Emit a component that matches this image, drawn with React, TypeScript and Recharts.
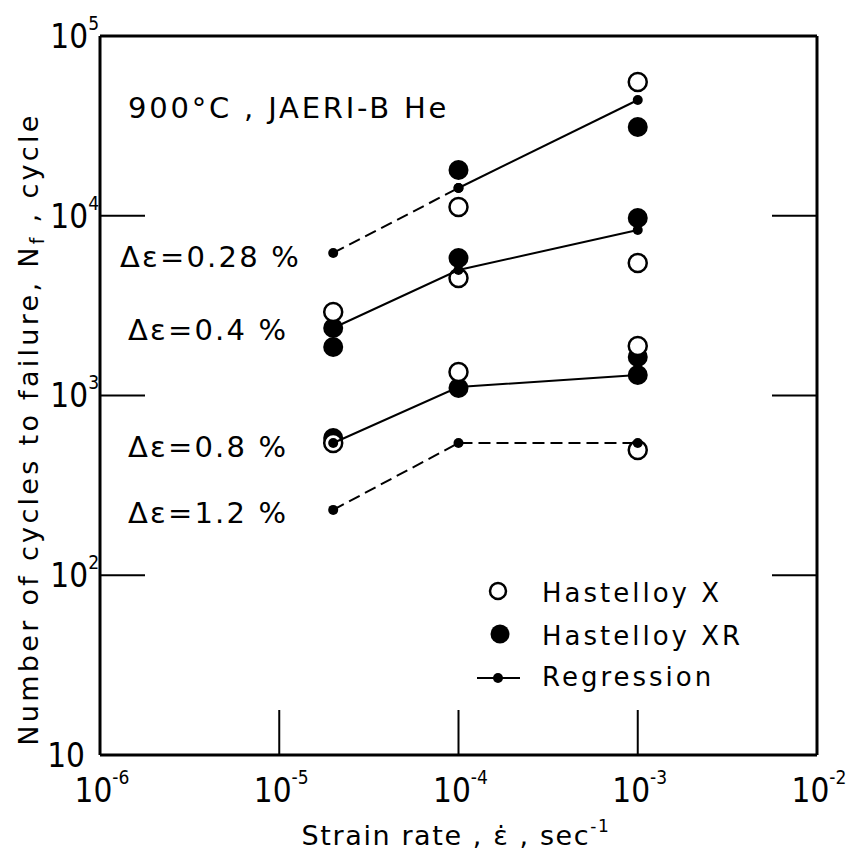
import { ScatterChart, Scatter, XAxis, YAxis, Legend } from 'recharts';

// strain rates where tests were run (sec^-1)
const STRAIN_RATES = [2e-5, 1e-4, 1e-3];

// cycles to failure, grouped by strain rate
const HASTELLOY_X = [
  [2913, 544],
  [11190, 4506, 1352],
  [55470, 5460, 1885, 498],
];
const HASTELLOY_XR = [
  [2375, 1862, 580],
  [17980, 5820, 1101],
  [31170, 9716, 1637, 1300],
];

// regression values at each strain rate, one array per strain range
const REG_028 = [6207, 14270, 44060];
const REG_04 = [2375, 4990, 8330];
const REG_08 = [544, 1115, 1300];
const REG_12 = [231, 544, 544];

const X_TICKS = [1e-6, 1e-5, 1e-4, 1e-3, 1e-2];
const Y_TICKS = [10, 1e2, 1e3, 1e4, 1e5];

const FONT = '"DejaVu Sans", sans-serif';
const TICK_FONT = '"DejaVu Sans Condensed", "DejaVu Sans", sans-serif';

const toPoints = (groups: number[][]) =>
  groups.flatMap((vals, i) => vals.map((v) => ({ x: STRAIN_RATES[i], y: v })));

const segment = (vals: number[], from: number, to: number) =>
  vals.slice(from, to + 1).map((v, k) => ({ x: STRAIN_RATES[from + k], y: v }));

const openPoints = toPoints(HASTELLOY_X);
const filledPoints = toPoints(HASTELLOY_XR);

const solidSegments = [segment(REG_028, 1, 2), segment(REG_04, 0, 2), segment(REG_08, 0, 2)];
const dashedSegments = [segment(REG_028, 0, 1), segment(REG_12, 0, 2)];

const AXIS_LINE = { stroke: '#000', strokeWidth: 3 };
const TICK_LINE = { stroke: '#000', strokeWidth: 2 };

const exponentOf = (v: number) => Math.round(Math.log10(v));

const XTick = (props: any) => {
  const { x, y, payload } = props;
  const e = exponentOf(payload.value);
  return (
    <text x={x + 2} y={y} dy="0.36em" textAnchor="middle" fontSize={33} fontFamily={TICK_FONT} fill="#000">
      <tspan>10</tspan>
      <tspan dy={-18} fontSize={19}>{e}</tspan>
    </text>
  );
};

const YTick = (props: any) => {
  const { x, y, payload } = props;
  const e = exponentOf(payload.value);
  if (e === 1) {
    return (
      <text x={x - 14} y={y} dy="0.36em" textAnchor="end" fontSize={33} fontFamily={TICK_FONT} fill="#000">
        10
      </text>
    );
  }
  return (
    <text x={x} y={y} dy="0.36em" textAnchor="end" fontSize={33} fontFamily={TICK_FONT} fill="#000">
      <tspan>10</tspan>
      <tspan dy={-18} fontSize={19}>{e}</tspan>
    </text>
  );
};

const NoLabel = () => <g />;

const openCircle = (p: any) => (
  <circle cx={p.cx} cy={p.cy} r={9} fill="#fff" stroke="#000" strokeWidth={2.5} />
);
const filledCircle = (p: any) => <circle cx={p.cx} cy={p.cy} r={10} fill="#000" />;
const regDot = (p: any) => <circle cx={p.cx} cy={p.cy} r={5} fill="#000" />;

const LegendBox = () => (
  <svg width={300} height={130} style={{ overflow: 'visible' }}>
    <g fontFamily={FONT} fontSize={26} fill="#000" letterSpacing={3}>
      <circle cx={28} cy={21} r={8} fill="#fff" stroke="#000" strokeWidth={2.5} />
      <text x={72} y={32}>Hastelloy X</text>
      <circle cx={30} cy={64} r={9.5} fill="#000" />
      <text x={72} y={75}>Hastelloy XR</text>
      <line x1={7} x2={50} y1={108} y2={108} stroke="#000" strokeWidth={2} />
      <circle cx={28} cy={108} r={5} fill="#000" />
      <text x={72} y={116}>Regression</text>
    </g>
  </svg>
);

export default function App() {
  return (
    <div style={{ position: 'absolute', left: 0, top: 0, width: 848, height: 855, background: '#fff' }}>
      <ScatterChart width={848} height={855} margin={{ top: 35, right: 30, bottom: 40, left: 40 }}>
        <XAxis
          dataKey="x"
          type="number"
          scale="log"
          domain={[1e-6, 1e-2]}
          ticks={X_TICKS}
          interval={0}
          allowDataOverflow
          height={60}
          tickSize={-45}
          tickMargin={80}
          axisLine={AXIS_LINE}
          tickLine={TICK_LINE}
          tick={(p: any) => <XTick {...p} />}
        />
        <XAxis
          xAxisId="top"
          orientation="top"
          type="number"
          scale="log"
          domain={[1e-6, 1e-2]}
          ticks={X_TICKS}
          interval={0}
          allowDataOverflow
          height={1}
          tickSize={-45}
          axisLine={AXIS_LINE}
          tickLine={TICK_LINE}
          tick={NoLabel}
        />
        <YAxis
          dataKey="y"
          type="number"
          scale="log"
          domain={[10, 1e5]}
          ticks={Y_TICKS}
          interval={0}
          allowDataOverflow
          width={60}
          tickSize={-45}
          tickMargin={46}
          axisLine={AXIS_LINE}
          tickLine={TICK_LINE}
          tick={(p: any) => <YTick {...p} />}
        />
        <YAxis
          yAxisId="right"
          orientation="right"
          type="number"
          scale="log"
          domain={[10, 1e5]}
          ticks={Y_TICKS}
          interval={0}
          allowDataOverflow
          width={1}
          tickSize={-45}
          axisLine={AXIS_LINE}
          tickLine={TICK_LINE}
          tick={NoLabel}
        />
        <Scatter data={filledPoints} shape={filledCircle} isAnimationActive={false} />
        <Scatter data={openPoints} shape={openCircle} isAnimationActive={false} />
        {solidSegments.map((seg, i) => (
          <Scatter
            key={`s${i}`}
            data={seg}
            line={{ stroke: '#000', strokeWidth: 2 }}
            lineType="joint"
            shape={regDot}
            isAnimationActive={false}
          />
        ))}
        {dashedSegments.map((seg, i) => (
          <Scatter
            key={`d${i}`}
            data={seg}
            line={{ stroke: '#000', strokeWidth: 2, strokeDasharray: '12 6' }}
            lineType="joint"
            shape={regDot}
            isAnimationActive={false}
          />
        ))}
        <Legend
          layout="vertical"
          align="center"
          verticalAlign="middle"
          wrapperStyle={{ position: 'absolute', left: 470, top: 570, width: 300, height: 130 }}
          content={() => <LegendBox />}
        />
      </ScatterChart>

      <svg
        width={848}
        height={855}
        style={{ position: 'absolute', left: 0, top: 0, pointerEvents: 'none' }}
      >
        <g fontFamily={FONT} fill="#000">
          <text x={128} y={118} fontSize={29} letterSpacing={2.8}>
            900°C , JAERI-B He
          </text>
          <text x={120} y={267} fontSize={29} letterSpacing={2.2}>Δε=0.28 %</text>
          <text x={128} y={340} fontSize={29} letterSpacing={2.2}>Δε=0.4 %</text>
          <text x={128} y={457} fontSize={29} letterSpacing={2.2}>Δε=0.8 %</text>
          <text x={128} y={523} fontSize={29} letterSpacing={2.2}>Δε=1.2 %</text>

          <text x={456} y={845} fontSize={27} letterSpacing={1.6} textAnchor="middle">
            <tspan>Strain rate , ε̇ , sec</tspan>
            <tspan dy={-13} fontSize={17}>-1</tspan>
          </text>

          <text
            x={38}
            y={429}
            fontSize={27}
            letterSpacing={3.3}
            textAnchor="middle"
            transform="rotate(-90 38 429)"
          >
            <tspan>Number of cycles to failure, N</tspan>
            <tspan dy={6} fontSize={19}>f</tspan>
            <tspan dy={-6}> , cycle</tspan>
          </text>
        </g>
      </svg>
    </div>
  );
}
